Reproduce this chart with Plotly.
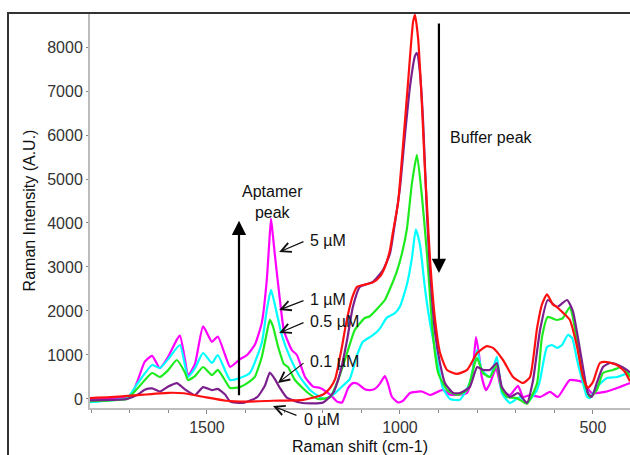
import plotly.graph_objects as go

# ---------------- data (Raman shift in cm-1, intensity in A.U.) ----------------
red_x = [1803, 1750, 1690, 1600, 1560, 1510, 1450, 1400, 1330, 1250, 1199, 1181, 1168, 1160, 1150, 1142, 1134,
         1122, 1111, 1091, 1070, 1052, 1039, 1026, 1018, 1005, 992, 979, 966, 961, 953, 943, 935, 930, 922, 909,
         896, 878, 852, 826, 800, 775, 759, 733, 707, 681, 663, 645, 632, 619, 604, 593, 580, 560, 541, 526, 513,
         500, 482, 464, 438, 417, 404]
red_y = [20, 40, 80, 140, 130, 50, -40, -60, -40, -20, 100, 250, 450, 750, 1200, 1600, 1950,
         2350, 2550, 2600, 2650, 2780, 3000, 3380, 3800, 4450, 5770, 7200, 8570, 8730, 8200, 6680, 5160, 4400, 3160, 1800,
         1045, 660, 570, 660, 1045, 1200, 1160, 886, 500, 364, 500, 1600, 2150, 2380, 2150, 2090, 1980, 1800, 1180, 500, 250,
         386, 818, 840, 773, 614, 400]

purple_x = [1803, 1750, 1707, 1679, 1661, 1642, 1622, 1601, 1578, 1557, 1531, 1510, 1487, 1472, 1453, 1440, 1407,
            1370, 1350, 1337, 1324, 1311, 1293, 1259, 1225, 1199, 1173, 1155, 1137, 1122, 1104, 1070, 1044, 1026,
            1013, 1000, 987, 974, 961, 956, 948, 940, 930, 922, 909, 896, 883, 862, 845, 819, 800, 785, 767, 749,
            736, 715, 694, 671, 655, 637, 617, 593, 567, 552, 541, 526, 513, 503, 490, 474, 456, 435, 412, 404]
purple_y = [-30, -20, 0, 100, 210, 240, 170, 280, 360, 220, 90, 270, 200, 230, 100, -60, -90,
            40, 300, 600, 450, 250, 30, -80, -100, -80, 136, 590, 1340, 2090, 2545, 2660, 2930, 3300,
            4000, 4800, 6000, 7100, 7800, 7865, 7400, 6300, 4200, 2900, 1500, 800, 350, 136, 136, 273, 727, 660, 660, 818,
            273, 45, 136, -90, 432, 1568, 2250, 2090, 2250, 2000, 1500, 727, 136, 45, 364, 727, 818, 773, 660, 600]

green_x = [1803, 1750, 1707, 1679, 1642, 1622, 1601, 1578, 1557, 1549, 1531, 1510, 1487, 1472, 1453, 1440, 1415,
           1389, 1376, 1358, 1345, 1337, 1329, 1316, 1301, 1290, 1272, 1238, 1212, 1181, 1160, 1137, 1117, 1091,
           1078, 1057, 1039, 1026, 1008, 995, 982, 969, 956, 943, 930, 914, 901, 878, 852, 826, 806, 800, 785, 767,
           749, 736, 723, 697, 671, 645, 632, 617, 593, 578, 560, 552, 539, 526, 508, 490, 474, 448, 425, 412, 404]
green_y = [-50, -30, 0, 250, 590, 500, 650, 886, 600, 432, 520, 727, 545, 660, 420, 250, 270,
           400, 500, 955, 1500, 1800, 1650, 1200, 800, 727, 432, 136, 0, 45, 432, 1045, 1568, 1841,
           1880, 2068, 2250, 2500, 2900, 3300, 3864, 4900, 5550, 4600, 3300, 1409, 590, 205, 90, 205, 818, 930, 590, 500,
           773, 205, 45, 20, -110, 350, 1409, 1864, 1795, 1840, 2090, 1860, 1180, 500, 45, 205, 590, 660, 727, 614, 500]

cyan_x = [1803, 1750, 1707, 1679, 1642, 1622, 1601, 1570, 1549, 1531, 1510, 1487, 1472, 1440, 1415, 1389, 1358,
          1345, 1334, 1321, 1306, 1285, 1259, 1233, 1207, 1194, 1168, 1142, 1130, 1111, 1096, 1070, 1052, 1034,
          1013, 1000, 982, 969, 959, 948, 935, 922, 904, 889, 870, 845, 819, 800, 788, 767, 749, 736, 715, 689,
          671, 645, 637, 619, 606, 593, 580, 565, 554, 541, 528, 515, 508, 490, 464, 438, 404]
cyan_y = [-70, -30, 20, 364, 773, 700, 900, 1227, 500, 700, 1045, 818, 1000, 432, 477, 590, 1273,
          2023, 2480, 2023, 1450, 950, 500, 205, 45, 0, 136, 350, 450, 1000, 1300, 1450, 1600, 1850,
          1950, 2100, 2600, 3200, 3850, 3500, 2500, 1727, 900, 250, 0, -20, 364, 1114, 660, 500, 955, 136, -90, 45,
          -90, 205, 432, 1180, 1227, 1160, 1227, 1455, 1390, 886, 432, 45, 20, 273, 477, 500, 614]

magenta_x = [1803, 1750, 1707, 1694, 1679, 1661, 1642, 1622, 1601, 1578, 1570, 1557, 1549, 1531, 1510, 1487, 1472,
             1453, 1440, 1415, 1396, 1376, 1358, 1345, 1339, 1334, 1329, 1324, 1311, 1301, 1290, 1280, 1267, 1246,
             1225, 1207, 1181, 1163, 1150, 1134, 1122, 1111, 1091, 1078, 1065, 1052, 1039, 1031, 1021, 1005, 992,
             974, 943, 922, 889, 870, 845, 826, 813, 803, 795, 788, 777, 767, 751, 736, 715, 694, 681, 663, 637, 611,
             591, 560, 528, 503, 469, 430, 404]
magenta_y = [0, 20, 40, 120, 430, 850, 980, 700, 950, 1350, 1440, 900, 530, 800, 1650, 1300, 1420,
             1000, 730, 900, 1000, 1230, 1730, 2700, 3500, 4100, 3700, 3270, 2250, 1570, 1300, 1110, 1000, 500,
             280, 250, 100, -60, -80, 250, 360, 350, 220, 200, 230, 350, 520, 350, 50, -80, -40,
             136, 170, 90, 205, 100, 100, 140, 500, 1409, 1000, 500, 200, 350, 700, 200, 90, 300, 45, 90, 45, 160,
             45, 430, 386, 136, 160, 273, 360]

series_names = ["5 µM", "1 µM", "0.5 µM", "0.1 µM", "0 µM"]
series_colors = ["#FF00FF", "#00FFFF", "#1EEB1E", "#7B1F8C", "#FF1010"]

x_ticks = [1500, 1000, 500]
y_ticks = [0, 1000, 2000, 3000, 4000, 5000, 6000, 7000, 8000]

FONT = "Arial, 'Liberation Sans', sans-serif"

fig = go.Figure()
for xs, ys, name, col in zip([magenta_x, cyan_x, green_x, purple_x, red_x],
                             [magenta_y, cyan_y, green_y, purple_y, red_y],
                             series_names, series_colors):
    fig.add_trace(go.Scatter(x=xs, y=ys, mode="lines", name=name,
                             line=dict(color=col, width=2.2, shape="spline", smoothing=0.5),
                             showlegend=False, hoverinfo="skip"))

axis_gray = "#BDBDBD"
fig.update_layout(
    width=630, height=455,
    margin=dict(l=90, r=0, t=13, b=47),
    paper_bgcolor="white", plot_bgcolor="white",
    font=dict(family=FONT, size=16, color="#222"),
    xaxis=dict(range=[1803, 404], tickvals=x_ticks, ticks="outside", ticklen=4, tickcolor="#888",
               showgrid=False, zeroline=False, showline=True, linecolor=axis_gray, linewidth=2,
               minor=dict(dtick=100, ticks="outside", ticklen=3, tickcolor="#888", showgrid=False),
               tickfont=dict(size=16, color="#333"),
               title=dict(text="Raman shift (cm-1)", font=dict(size=16, color="#111"), standoff=6)),
    yaxis=dict(range=[-205, 8773], tickvals=y_ticks, ticks="outside", ticklen=2, tickcolor="#888",
               showgrid=False, zeroline=False, showline=True, linecolor=axis_gray, linewidth=2,
               tickfont=dict(size=16, color="#333"),
               title=dict(text="Raman Intensity (A.U.)", font=dict(size=16, color="#111"), standoff=8)),
)

# outer black frame (extends beyond the visible page on right/bottom)
fig.add_shape(type="rect", xref="paper", yref="paper", x0=-82 / 540, x1=1.3, y0=-0.4, y1=1.0,
              line=dict(color="#333", width=2), fillcolor="rgba(0,0,0,0)", layer="above")

# big arrows
fig.add_annotation(x=1417, y=4050, ax=1417, ay=50, xref="x", yref="y", axref="x", ayref="y",
                   text="", showarrow=True, arrowhead=2, arrowsize=1.3, arrowwidth=2.2, arrowcolor="black")
fig.add_annotation(x=899, y=2864, ax=899, ay=8570, xref="x", yref="y", axref="x", ayref="y",
                   text="", showarrow=True, arrowhead=2, arrowsize=1.3, arrowwidth=2.2, arrowcolor="black")

fig.add_annotation(x=1329, y=4466, xref="x", yref="y", text="Aptamer<br>peak", showarrow=False,
                   font=dict(size=16, color="#111"), xanchor="center", yanchor="middle")
fig.add_annotation(x=876, y=5932, xref="x", yref="y", text="Buffer peak", showarrow=False,
                   font=dict(size=16, color="#111"), xanchor="left", yanchor="middle")

# concentration labels with small arrows
labels = [("5 µM", 3591, 1313, 3341), ("1 µM", 2250, 1313, 2023), ("0.5 µM", 1750, 1313, 1500),
          ("0.1 µM", 841, 1316, 364)]
for txt, ty, hx, hy in labels:
    fig.add_annotation(x=1238, y=ty, xref="x", yref="y", text=txt, showarrow=False,
                       font=dict(size=16, color="#111"), xanchor="left", yanchor="middle")
    fig.add_annotation(x=hx, y=hy, ax=1246, ay=ty, xref="x", yref="y", axref="x", ayref="y",
                       text="", showarrow=True, arrowhead=5, arrowsize=1.6, arrowwidth=1.2, arrowcolor="#111")

fig.add_annotation(x=1329, y=-160, ax=25, ay=10, xref="x", yref="y", text="", showarrow=True,
                   arrowhead=5, arrowsize=1.6, arrowwidth=1.2, arrowcolor="#111")
fig.add_annotation(x=1254, y=-0.03, xref="x", yref="paper", text="0 µM", showarrow=False,
                   font=dict(size=16, color="#111"), xanchor="left", yanchor="middle")

fig.write_html("out.html")
